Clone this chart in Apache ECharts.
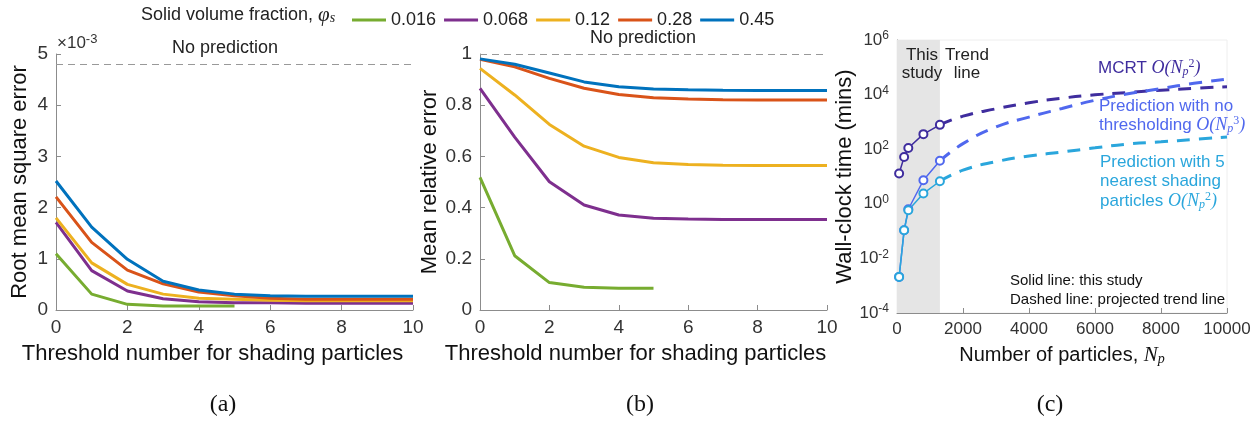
<!DOCTYPE html>
<html>
<head>
<meta charset="utf-8">
<script src="https://cdn.jsdelivr.net/npm/echarts/dist/echarts.min.js"></script>
<style>
html, body { margin: 0; padding: 0; background: #fff; }
#main { width: 1260px; height: 421px; }
</style>
</head>
<body>
<div id="main"></div>
<script>
// (a) / (b): threshold number for shading particles
var thresholds = [0, 1, 2, 3, 4, 5, 6, 7, 8, 9, 10];
var fractions = ['0.016', '0.068', '0.12', '0.28', '0.45'];
var fracColors = ['#77AC30', '#7E2F8E', '#EDB120', '#D95319', '#0072BD'];

// root mean square error, x1e-3
var rmse016 = [1.10, 0.31, 0.11, 0.08, 0.08, 0.08];
var rmse068 = [1.71, 0.77, 0.37, 0.22, 0.16, 0.14, 0.14, 0.13, 0.13, 0.13, 0.13];
var rmse012 = [1.80, 0.92, 0.50, 0.31, 0.23, 0.21, 0.19, 0.18, 0.18, 0.18, 0.18];
var rmse028 = [2.21, 1.32, 0.78, 0.51, 0.35, 0.28, 0.23, 0.21, 0.21, 0.21, 0.21];
var rmse045 = [2.52, 1.62, 0.99, 0.56, 0.39, 0.31, 0.28, 0.27, 0.27, 0.27, 0.27];
var noPredRmse = 4.8;

// mean relative error
var mre016 = [0.518, 0.212, 0.107, 0.089, 0.085, 0.085];
var mre068 = [0.866, 0.675, 0.501, 0.41, 0.371, 0.358, 0.355, 0.354, 0.354, 0.354, 0.354];
var mre012 = [0.944, 0.84, 0.725, 0.64, 0.596, 0.575, 0.568, 0.565, 0.564, 0.564, 0.564];
var mre028 = [0.979, 0.95, 0.905, 0.866, 0.842, 0.829, 0.824, 0.821, 0.82, 0.82, 0.82];
var mre045 = [0.981, 0.96, 0.926, 0.891, 0.872, 0.863, 0.86, 0.858, 0.857, 0.857, 0.857];
var noPredMre = 1;

// (c): wall-clock time (mins) vs number of particles
var studyRange = 1300;
var npStudy = [64, 216, 343, 800, 1300];
var mcrtStudy = [12.9, 52, 110, 356, 780];
var noThrStudy = [0.0021, 0.107, 0.63, 7.3, 37.5];
var nearStudy = [0.0021, 0.107, 0.58, 2.4, 6.7];
var npTrend = [1300, 2000, 3000, 4000, 5000, 6000, 7000, 8000, 9000, 10000];
var mcrtTrend = [780, 1620, 3020, 5000, 7400, 9800, 12000, 14500, 17000, 19500];
var noThrTrend = [37.5, 160, 650, 1500, 3100, 6200, 10700, 16600, 26000, 37000];
var nearTrend = [6.7, 17, 35, 56, 79, 112, 155, 186, 229, 280];

var cColors = { mcrt: '#3f2d9e', noThr: '#5068ee', near: '#2aa6dc' };

var sans = 'Liberation Sans, Arial, sans-serif';
var serif = 'Liberation Serif, Times New Roman, serif';
var axisGray = '#8c8c8c';
var labelColor = '#333333';

function zip(xs, ys) {
	return ys.map(function(y, i) { return [xs[i], y]; });
}

function axisBase(gridIndex) {
	return {
		gridIndex: gridIndex,
		axisLine: { show: true, onZero: false, lineStyle: { color: axisGray, width: 1 } },
		axisTick: { show: true, inside: true, length: 5, lineStyle: { color: axisGray } },
		axisLabel: { color: labelColor, fontSize: 19, fontFamily: sans },
		splitLine: { show: false },
		nameLocation: 'middle',
		nameTextStyle: { color: '#111', fontSize: 22, fontFamily: sans }
	};
}

function fracLine(name, xAxisIndex, values, color) {
	return {
		name: name,
		type: 'line',
		xAxisIndex: xAxisIndex,
		yAxisIndex: xAxisIndex,
		data: zip(thresholds, values),
		showSymbol: false,
		lineStyle: { color: color, width: 3 },
		itemStyle: { color: color },
		z: 3
	};
}

function noPredLine(xAxisIndex, value) {
	return {
		type: 'line',
		xAxisIndex: xAxisIndex,
		yAxisIndex: xAxisIndex,
		data: [],
		markLine: {
			silent: true,
			symbol: 'none',
			label: { show: false },
			lineStyle: { color: '#999', type: [7, 5], width: 1 },
			data: [{ yAxis: value }]
		}
	};
}

function studyLine(name, values, color) {
	return {
		name: name,
		type: 'line',
		xAxisIndex: 2,
		yAxisIndex: 2,
		data: zip(npStudy, values),
		symbol: 'emptyCircle',
		symbolSize: 8,
		lineStyle: { color: color, width: 1.5 },
		itemStyle: { color: color, borderWidth: 1.5 },
		z: 4
	};
}

function trendLine(name, values, color) {
	return {
		name: name,
		type: 'line',
		xAxisIndex: 2,
		yAxisIndex: 2,
		data: zip(npTrend, values),
		smooth: true,
		showSymbol: false,
		lineStyle: { color: color, width: 3, type: [13, 9] },
		itemStyle: { color: color },
		z: 3
	};
}

var rmseSets = [rmse016, rmse068, rmse012, rmse028, rmse045];
var mreSets = [mre016, mre068, mre012, mre028, mre045];

var series = [];
fractions.forEach(function(f, i) { series.push(fracLine(f, 0, rmseSets[i], fracColors[i])); });
fractions.forEach(function(f, i) { series.push(fracLine(f, 1, mreSets[i], fracColors[i])); });
series.push(noPredLine(0, noPredRmse));
series.push(noPredLine(1, noPredMre));

var shade = trendLine('MCRT trend', mcrtTrend, cColors.mcrt);
shade.markArea = {
	silent: true,
	itemStyle: { color: '#e5e5e5' },
	data: [[{ xAxis: 0 }, { xAxis: studyRange }]]
};
series.push(shade);
series.push(trendLine('No thresholding trend', noThrTrend, cColors.noThr));
series.push(trendLine('Nearest trend', nearTrend, cColors.near));
series.push(studyLine('MCRT', mcrtStudy, cColors.mcrt));
series.push(studyLine('No thresholding', noThrStudy, cColors.noThr));
series.push(studyLine('Nearest', nearStudy, cColors.near));

var xA = axisBase(0);
xA.type = 'value'; xA.min = 0; xA.max = 10; xA.interval = 2;
xA.name = 'Threshold number for shading particles'; xA.nameGap = 33;
xA.nameTextStyle.padding = [0, 44, 0, 0];
var xB = axisBase(1);
xB.type = 'value'; xB.min = 0; xB.max = 10; xB.interval = 2;
xB.name = 'Threshold number for shading particles'; xB.nameGap = 33;
xB.nameTextStyle.padding = [0, 36, 0, 0];
var xC = axisBase(2);
xC.type = 'value'; xC.min = 0; xC.max = 10000; xC.interval = 2000;
xC.axisLabel.fontSize = 17;
xC.axisLabel.formatter = function(v) { return String(v); };
xC.name = '{t|Number of particles, }{m|N}{s|p}';
xC.nameGap = 32;
xC.nameTextStyle.rich = {
	t: { fontSize: 20, fontFamily: sans, color: '#111' },
	m: { fontSize: 21, fontFamily: serif, fontStyle: 'italic', color: '#111' },
	s: { fontSize: 14, fontFamily: serif, fontStyle: 'italic', color: '#111', verticalAlign: 'bottom' }
};

var yA = axisBase(0);
yA.type = 'value'; yA.min = 0; yA.max = 5; yA.interval = 1;
yA.name = 'Root mean square error'; yA.nameGap = 25;
var yB = axisBase(1);
yB.type = 'value'; yB.min = 0; yB.max = 1; yB.interval = 0.2;
yB.name = 'Mean relative error'; yB.nameGap = 39;
var yC = axisBase(2);
yC.type = 'log'; yC.logBase = 10; yC.min = 0.0001; yC.max = 1000000; yC.interval = 2;
yC.name = 'Wall-clock time (mins)'; yC.nameGap = 38;
yC.axisLabel.formatter = function(v) {
	return '{b|10}{e|' + Math.round(Math.log10(v)) + '}';
};
yC.axisLabel.rich = {
	b: { fontSize: 17, fontFamily: sans, color: labelColor },
	e: { fontSize: 12, fontFamily: sans, color: labelColor, verticalAlign: 'top', padding: [0, 0, 8, 0] }
};

function mathRich(color) {
	return {
		t: { fontSize: 17, fontFamily: sans, fill: color, lineHeight: 20 },
		m: { fontSize: 18, fontFamily: serif, fontStyle: 'italic', fill: color },
		sub: { fontSize: 12, fontFamily: serif, fontStyle: 'italic', fill: color, verticalAlign: 'bottom' },
		sup: { fontSize: 12, fontFamily: serif, fill: color, verticalAlign: 'top' }
	};
}

function txt(x, y, text, opts) {
	opts = opts || {};
	return {
		type: 'text',
		x: x,
		y: y,
		z: 10,
		style: {
			text: text,
			fill: opts.color || '#222',
			fontSize: opts.fontSize || 17,
			fontFamily: opts.fontFamily || sans,
			align: opts.align || 'left',
			verticalAlign: 'middle',
			rich: opts.rich
		}
	};
}

var headerRich = {
	a: { fontSize: 18, fontFamily: sans, fill: '#222' },
	p: { fontSize: 21, fontFamily: serif, fontStyle: 'italic', fill: '#222' },
	s: { fontSize: 14, fontFamily: serif, fontStyle: 'italic', fill: '#222', verticalAlign: 'bottom' }
};

var graphic = [
	txt(141, 15, '{a|Solid volume fraction, }{p|φ}{s|s}', { rich: headerRich }),
	txt(57, 43, '{a|×10}{e|-3}', { rich: {
		a: { fontSize: 17, fontFamily: sans, fill: labelColor },
		e: { fontSize: 13, fontFamily: sans, fill: labelColor, verticalAlign: 'top', padding: [0, 0, 8, 0] }
	} }),
	txt(225, 48, 'No prediction', { fontSize: 18, align: 'center' }),
	txt(643, 38, 'No prediction', { fontSize: 18, align: 'center' }),
	txt(922, 55, 'This', { align: 'center' }),
	txt(922, 73, 'study', { align: 'center' }),
	txt(967, 55, 'Trend', { align: 'center' }),
	txt(967, 73, 'line', { align: 'center' }),
	txt(1098, 68, '{t|MCRT }{m|O(N}{sub|p}{sup|2}{m|)}', { rich: mathRich(cColors.mcrt) }),
	txt(1099, 106, 'Prediction with no', { color: cColors.noThr }),
	txt(1099, 125, '{t|thresholding }{m|O(N}{sub|p}{sup|3}{m|)}', { rich: mathRich(cColors.noThr) }),
	txt(1100, 162, 'Prediction with 5', { color: cColors.near }),
	txt(1100, 181, 'nearest shading', { color: cColors.near }),
	txt(1100, 201, '{t|particles }{m|O(N}{sub|p}{sup|2}{m|)}', { rich: mathRich(cColors.near) }),
	txt(1010, 281, 'Solid line: this study', { fontSize: 15, color: '#111' }),
	txt(1010, 300, 'Dashed line: projected trend line', { fontSize: 15, color: '#111' }),
	txt(223, 405, '(a)', { fontSize: 24, fontFamily: serif, align: 'center', color: '#111' }),
	txt(640, 405, '(b)', { fontSize: 24, fontFamily: serif, align: 'center', color: '#111' }),
	txt(1050, 405, '(c)', { fontSize: 24, fontFamily: serif, align: 'center', color: '#111' })
];

var myChart = echarts.init(document.getElementById('main'));
var option = {
	animation: false,
	backgroundColor: '#fff',
	legend: {
		data: fractions,
		left: 347,
		top: 6,
		icon: 'rect',
		itemWidth: 34,
		itemHeight: 3,
		itemGap: 8,
		selectedMode: false,
		textStyle: { fontSize: 18, fontFamily: sans, color: '#222' }
	},
	grid: [
		{ left: 56, top: 54, width: 357, height: 256 },
		{ left: 480, top: 54, width: 347, height: 256 },
		{ left: 897, top: 40, width: 330, height: 273, show: true, borderColor: '#eeeeee', borderWidth: 1 }
	],
	xAxis: [xA, xB, xC],
	yAxis: [yA, yB, yC],
	graphic: graphic,
	series: series
};
myChart.setOption(option);
</script>
</body>
</html>
